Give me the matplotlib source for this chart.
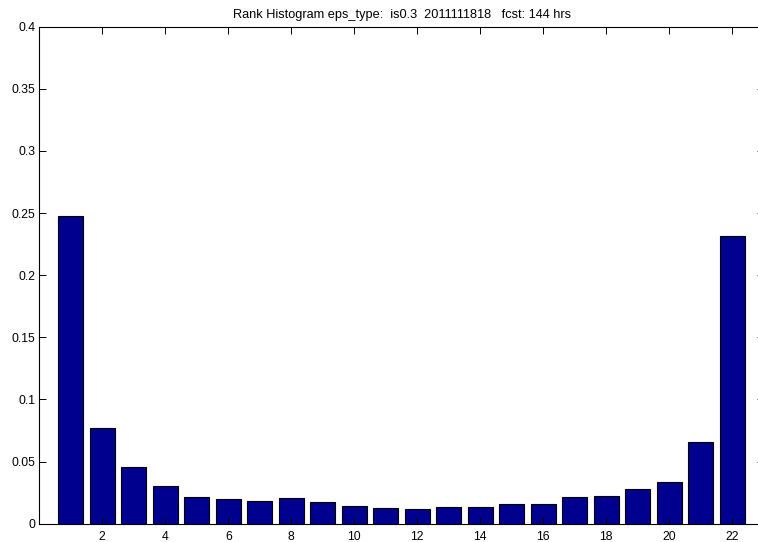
import matplotlib
matplotlib.use("Agg")
import matplotlib.pyplot as plt
import numpy as np

# Rank histogram frequencies for each of the 22 ranks
ranks = list(range(1, 23))
freq = [0.248, 0.0768, 0.0459, 0.0303, 0.0212, 0.0199, 0.0185, 0.0204,
        0.0172, 0.0142, 0.0129, 0.0121, 0.0134, 0.0132, 0.0159, 0.0156,
        0.0215, 0.0220, 0.0279, 0.0336, 0.0658, 0.2318]
xticks = list(range(2, 23, 2))
yticks = [0, 0.05, 0.1, 0.15, 0.2, 0.25, 0.3, 0.35, 0.4]
ytick_labels = ["0", "0.05", "0.1", "0.15", "0.2", "0.25", "0.3", "0.35", "0.4"]
title = "Rank Histogram eps_type:  is0.3  2011111818   fcst: 144 hrs"

plt.rcParams["font.family"] = ["Liberation Sans", "DejaVu Sans"]

fig = plt.figure(figsize=(7.58, 5.42), dpi=100)
ax = fig.add_axes([0.0518, 0.0338, 0.9558, 0.917])

ax.bar(ranks, freq, width=0.8, color="#00008f", edgecolor="black", linewidth=0.8)

ax.set_xlim(0, 23)
ax.set_ylim(0, 0.4)
ax.set_xticks(xticks)
ax.set_xticklabels([str(t) for t in xticks])
ax.set_yticks(yticks)
ax.set_yticklabels(ytick_labels)

ax.tick_params(direction="in", length=5, width=0.7, top=True, right=True,
               labelsize=8.8, colors="black")
ax.tick_params(axis="y", pad=3)
ax.tick_params(axis="x", pad=5)
for s in ax.spines.values():
    s.set_linewidth(0.8)
    s.set_color("black")

ax.set_title(title, fontsize=9.2, pad=6.5)

fig.savefig("out.png", dpi=100)
